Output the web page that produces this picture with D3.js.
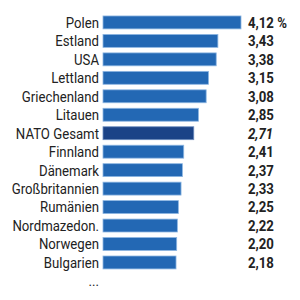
<!DOCTYPE html>
<html>
<head>
  <meta charset="utf-8">
  <style type="text/css">
    body { margin: 0; background: #fff; }
    text { font-family: Roboto, "Noto Sans", sans-serif; fill: #222; }
  </style>
  <script src="https://d3js.org/d3.v7.min.js"></script>
</head>
<body>
  <div id="chart"></div>
  <script type="text/javascript">
    "use strict";
    // Verteidigungsausgaben in % des BIP
    var countries = ["Polen", "Estland", "USA", "Lettland", "Griechenland", "Litauen",
                     "NATO Gesamt", "Finnland", "Dänemark", "Großbritannien", "Rumänien",
                     "Nordmazedon.", "Norwegen", "Bulgarien"];
    var shares = [4.12, 3.43, 3.38, 3.15, 3.08, 2.85, 2.71, 2.41, 2.37, 2.33, 2.25, 2.22, 2.20, 2.18];
    var highlight = "NATO Gesamt";

    var width = 300, height = 300,
        left = 103, labelX = 99, valueX = 248,
        squeeze = 0.88;   // Roboto etwas schmaler ziehen

    var svg = d3.select("#chart")
      .append("svg")
        .attr("width", width)
        .attr("height", height);

    var x = d3.scaleLinear()
      .domain([0, 4.12])
      .range([left, 241]);

    var y = d3.scaleBand()
      .domain(countries)
      .range([13.2, 271.7])
      .paddingInner(0.3)
      .paddingOuter(0.15);

    var fmt = function(v) { return d3.format(".2f")(v).replace(".", ","); };

    var rows = svg.selectAll("g.row")
      .data(countries)
      .enter().append("g")
        .attr("class", "row");

    rows.append("rect")
      .attr("x", x(0))
      .attr("y", function(d) { return y(d); })
      .attr("width", function(d, i) { return x(shares[i]) - x(0); })
      .attr("height", y.bandwidth())
      .attr("fill", function(d) { return d === highlight ? "#1b4387" : "#2368b4"; })
      .attr("stroke", function(d) { return d === highlight ? "#6f8fc0" : "#8db6e2"; })
      .attr("stroke-width", 0.8);

    rows.append("text")
      .attr("transform", function(d) {
        return "translate(" + labelX + "," + (y(d) + y.bandwidth() / 2) + ") scale(" + squeeze + ",1)";
      })
      .attr("dy", "0.36em")
      .attr("text-anchor", "end")
      .style("font-size", "15px")
      .text(function(d) { return d; });

    rows.append("text")
      .attr("transform", function(d) {
        return "translate(" + valueX + "," + (y(d) + y.bandwidth() / 2) + ") scale(" + squeeze + ",1)";
      })
      .attr("dy", "0.36em")
      .style("font-size", "15px")
      .style("font-weight", "bold")
      .style("font-style", function(d) { return d === highlight ? "italic" : "normal"; })
      .text(function(d, i) { return fmt(shares[i]) + (i === 0 ? " %" : ""); });

    // Auslassungspunkte unter der letzten Zeile
    svg.append("text")
      .attr("transform", "translate(" + labelX + "," + (y(countries[countries.length - 1]) + y.step() + y.bandwidth() / 2) + ") scale(" + squeeze + ",1)")
      .attr("dy", "0.36em")
      .attr("text-anchor", "end")
      .style("font-size", "15px")
      .text("...");
  </script>
</body>
</html>
